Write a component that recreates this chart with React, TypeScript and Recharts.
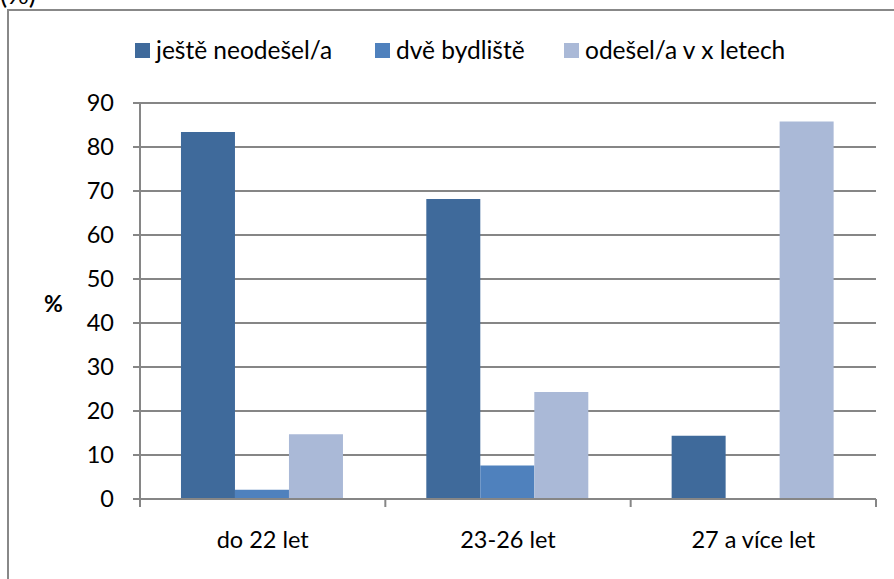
import React from 'react'
import { BarChart, Bar, XAxis, YAxis, CartesianGrid, Legend } from 'recharts'

const categories = ['do 22 let', '23-26 let', '27 a více let']
const notLeft = [83.4, 68.2, 14.4]
const twoHomes = [2.1, 7.6, 0]
const leftInYears = [14.7, 24.3, 85.8]
const yTicks = [0, 10, 20, 30, 40, 50, 60, 70, 80, 90]

const series = [
  { key: 'notLeft', name: 'ještě neodešel/a', color: '#3F6A9B' },
  { key: 'twoHomes', name: 'dvě bydliště', color: '#4F81BD' },
  { key: 'leftInYears', name: 'odešel/a v x letech', color: '#AAB9D7' },
]

const data = categories.map((cat, i) => ({
  cat,
  notLeft: notLeft[i],
  twoHomes: twoHomes[i],
  leftInYears: leftInYears[i],
}))

const FONT = 'Lato, "Open Sans", sans-serif'
const legendLeft = [135, 375, 564] // legend item x positions

function LegendBox(props: any) {
  const payload = [...(props.payload || [])].sort(
    (a: any, b: any) => series.findIndex((s) => s.name === a.value) - series.findIndex((s) => s.name === b.value)
  )
  return (
    <div style={{ position: 'relative', height: 0 }}>
      {payload.map((p: any, i: number) => (
        <div
          key={p.value}
          style={{ position: 'absolute', left: legendLeft[i], top: 0, height: 24, lineHeight: '24px', display: 'flex', alignItems: 'center', fontFamily: FONT, fontSize: 24.5, color: '#000', whiteSpace: 'nowrap' }}
        >
          <span style={{ display: 'inline-block', width: 15, height: 15, background: p.color, marginRight: 6 }} />
          {p.value}
        </div>
      ))}
    </div>
  )
}

// category label with boundary tick marks like the original
function CatTick(props: any) {
  const { x, y, payload, index, visibleTicksCount } = props
  const half = payload.offset || 736 / 6
  return (
    <g>
      <line x1={x - half} y1={y} x2={x - half} y2={y + 8} stroke="#868686" strokeWidth={2} />
      {index === (visibleTicksCount ?? 3) - 1 && (
        <line x1={x + half} y1={y} x2={x + half} y2={y + 8} stroke="#868686" strokeWidth={2} />
      )}
      <text x={x} y={y + 43} textAnchor="middle" dominantBaseline="middle" fontFamily={FONT} fontSize={23.5} fill="#000">
        {payload.value}
      </text>
    </g>
  )
}

export default function App() {
  return (
    <div style={{ position: 'absolute', left: 0, top: 0, width: 894, height: 579, background: '#fff', overflow: 'hidden' }}>
      <div style={{ position: 'absolute', left: 0, top: -23, fontFamily: FONT, fontSize: 27 }}>(%)</div>
      <div style={{ position: 'absolute', left: 7, top: 9, width: 900, height: 600, borderLeft: '2px solid #888', borderTop: '2px solid #888' }} />
      <div style={{ position: 'absolute', left: 44, top: 289, fontFamily: FONT, fontSize: 23, fontWeight: 'bold' }}>%</div>
      <div style={{ position: 'absolute', left: 0, top: 0 }}>
        <BarChart width={894} height={579} data={data} margin={{ top: 103, right: 18, bottom: 20, left: 0 }} barCategoryGap="16.7%" barGap={0}>
          <CartesianGrid vertical={false} stroke="#868686" strokeWidth={2} />
          <XAxis dataKey="cat" height={60} tickLine={false} tickSize={0} tickMargin={0} axisLine={{ stroke: '#868686', strokeWidth: 2 }} tick={<CatTick />} interval={0} />
          <YAxis
            width={140}
            domain={[0, 90]}
            ticks={yTicks}
            interval={0}
            tickSize={7}
            tickMargin={19}
            axisLine={{ stroke: '#868686', strokeWidth: 2 }}
            tickLine={{ stroke: '#868686', strokeWidth: 2 }}
            tick={{ fontFamily: FONT, fontSize: 23.5, fill: '#000' }}
          />
          <Legend verticalAlign="top" content={<LegendBox />} wrapperStyle={{ top: 38, left: 0, width: 894, height: 0 }} />
          {series.map((s) => (
            <Bar key={s.key} dataKey={s.key} name={s.name} fill={s.color} isAnimationActive={false} />
          ))}
        </BarChart>
      </div>
    </div>
  )
}
